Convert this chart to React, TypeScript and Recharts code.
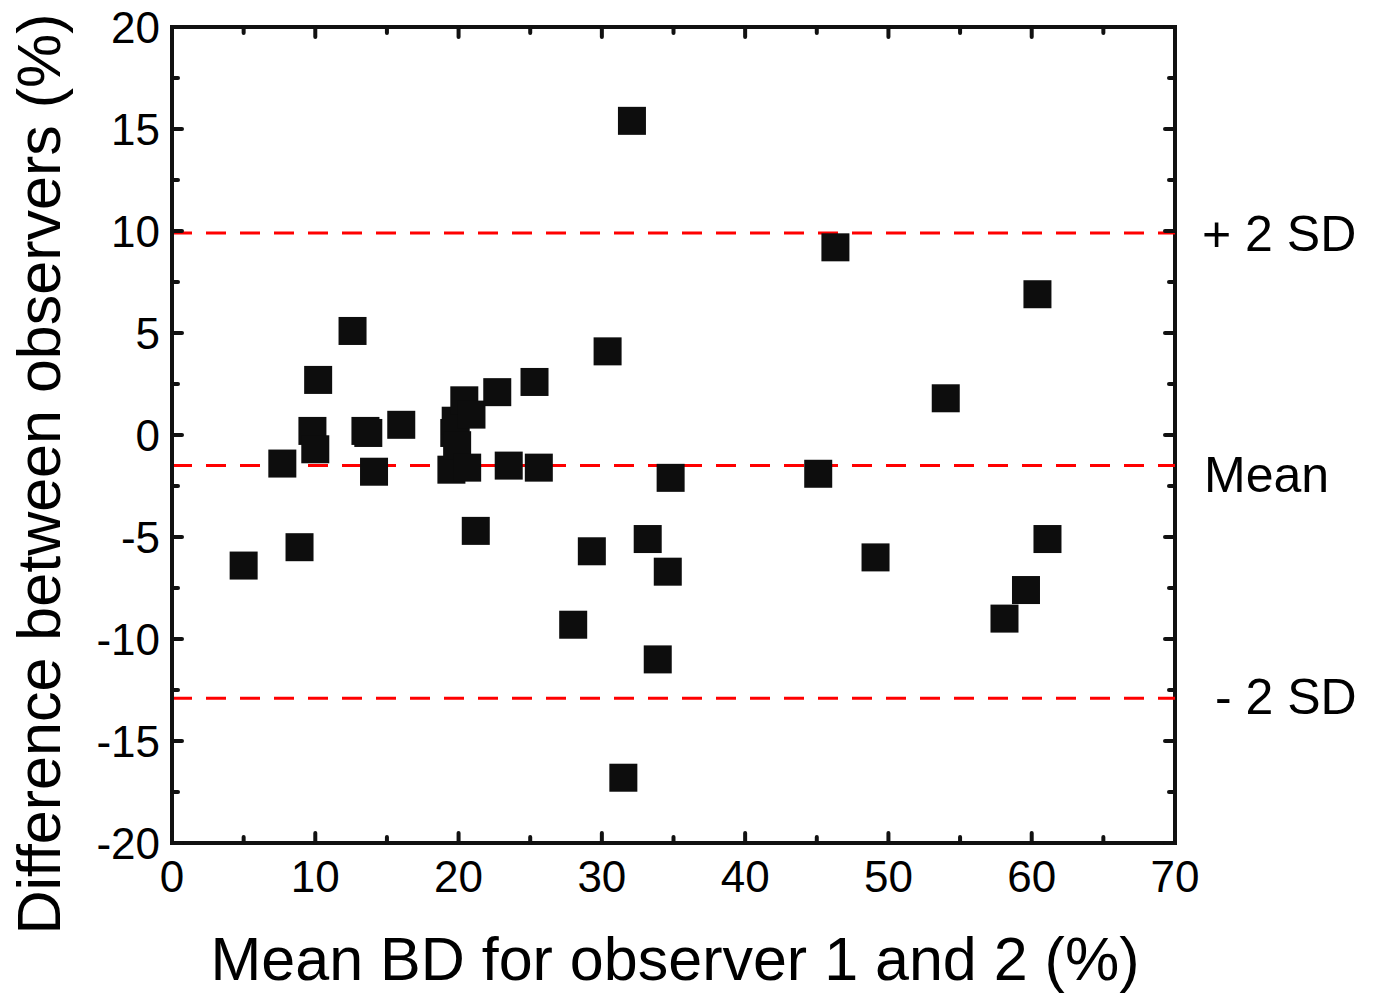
import React from 'react';
import { ScatterChart, Scatter, XAxis, YAxis, ReferenceLine } from 'recharts';

// Bland-Altman: mean BD vs difference between observers
const meanBD = [
  5.0, 7.7, 8.9, 9.8, 10.0, 10.2, 12.6, 13.5, 13.7, 14.1,
  16.0, 19.5, 19.7, 19.8, 19.9, 20.4, 20.6, 20.9, 21.2, 22.7,
  23.5, 25.3, 25.6, 28.0, 29.3, 30.4, 31.5, 32.1, 33.2, 33.9,
  34.6, 34.8, 45.1, 46.3, 49.1, 54.0, 58.1, 59.6, 60.4, 61.1,
];
const difference = [
  -6.4, -1.4, -5.5, 0.2, -0.7, 2.7, 5.1, 0.2, 0.1, -1.8,
  0.5, -1.7, 0.1, 0.7, -0.5, 1.7, -1.6, 1.0, -4.7, 2.1,
  -1.5, 2.6, -1.6, -9.3, -5.7, 4.1, -16.8, 15.4, -5.1, -11.0,
  -6.7, -2.1, -1.9, 9.2, -6.0, 1.8, -9.0, -7.6, 6.9, -5.1,
];

const xTicks = [0, 5, 10, 15, 20, 25, 30, 35, 40, 45, 50, 55, 60, 65, 70];
const xTickLabels = [0, 10, 20, 30, 40, 50, 60, 70];
const yTicks = [-20, -17.5, -15, -12.5, -10, -7.5, -5, -2.5, 0, 2.5, 5, 7.5, 10, 12.5, 15, 17.5, 20];
const yTickLabels = [-20, -15, -10, -5, 0, 5, 10, 15, 20];

const limitValues = [9.9, -1.5, -12.9];
const limitNames = ['+ 2 SD', 'Mean', '- 2 SD'];

const W = 1376;
const H = 996;
const margin = { top: 27, right: 201, bottom: 152, left: 171 };
const plotTop = margin.top;
const plotRight = W - margin.right;
const ink = '#111';
const font = '"Liberation Sans", Arial, sans-serif';

// label nudges for the limit lines (x offset from right axis, y offset)
const limitNudge = [
  { dx: 27, dy: 0 },
  { dx: 29, dy: 8 },
  { dx: 40, dy: -2 },
];

const points = meanBD.map((x, i) => ({ x, y: difference[i] }));

const XTick = (props: any) => {
  const { x, y, payload } = props;
  const major = xTickLabels.includes(payload.value);
  const len = major ? 10 : 6;
  return (
    <g>
      <line x1={x} y1={y} x2={x} y2={y - len} stroke={ink} strokeWidth={4} strokeLinecap="round" />
      <line x1={x} y1={plotTop} x2={x} y2={plotTop + len} stroke={ink} strokeWidth={4} strokeLinecap="round" />
      {major && (
        <text x={x} y={y + 49} textAnchor="middle" fontSize={44} fill="#000" fontFamily={font}>
          {payload.value}
        </text>
      )}
    </g>
  );
};

const YTick = (props: any) => {
  const { x, y, payload } = props;
  const major = yTickLabels.includes(payload.value);
  const len = major ? 10 : 6;
  return (
    <g>
      <line x1={x} y1={y} x2={x + len} y2={y} stroke={ink} strokeWidth={4} strokeLinecap="round" />
      <line x1={plotRight} y1={y} x2={plotRight - len} y2={y} stroke={ink} strokeWidth={4} strokeLinecap="round" />
      {major && (
        <text x={x - 12} y={y + 16} textAnchor="end" fontSize={44} fill="#000" fontFamily={font}>
          {payload.value}
        </text>
      )}
    </g>
  );
};

const SquareDot = (props: any) => {
  const { cx, cy } = props;
  const s = 28;
  return <rect x={cx - s / 2} y={cy - s / 2} width={s} height={s} fill="#0d0d0d" />;
};

const limitLabel = (i: number) => (props: any) => {
  const vb = props.viewBox || {};
  const x = (vb.x ?? 0) + (vb.width ?? 0) + limitNudge[i].dx;
  const y = (vb.y ?? 0) + limitNudge[i].dy + 18;
  return (
    <text x={x} y={y} fontSize={50} fill="#000" fontFamily={font}>
      {limitNames[i]}
    </text>
  );
};

const xTitle = () => (
  <text x={675} y={980} textAnchor="middle" fontSize={61} fill="#000" fontFamily={font}>
    Mean BD for observer 1 and 2 (%)
  </text>
);

const yTitle = () => (
  <text x={60} y={474} transform="rotate(-90, 60, 474)" textAnchor="middle" fontSize={61} fill="#000" fontFamily={font}>
    Difference between observers (%)
  </text>
);

export default function App() {
  return (
    <div style={{ position: 'absolute', left: 0, top: 0, width: W, height: H, background: '#fff' }}>
      <ScatterChart width={W} height={H} margin={margin}>
        <XAxis
          type="number"
          dataKey="x"
          domain={[0, 70]}
          ticks={xTicks}
          interval={0}
          height={1}
          tickSize={0}
          tickMargin={0}
          tickLine={false}
          tick={<XTick />}
          axisLine={{ stroke: ink, strokeWidth: 4, strokeLinecap: 'square' }}
          label={{ content: xTitle }}
        />
        <YAxis
          type="number"
          dataKey="y"
          domain={[-20, 20]}
          ticks={yTicks}
          interval={0}
          width={1}
          tickSize={0}
          tickMargin={0}
          tickLine={false}
          tick={<YTick />}
          axisLine={{ stroke: ink, strokeWidth: 4, strokeLinecap: 'square' }}
          label={{ content: yTitle }}
        />
        <ReferenceLine y={20} stroke={ink} strokeWidth={4} strokeLinecap="square" />
        <ReferenceLine x={70} stroke={ink} strokeWidth={4} strokeLinecap="square" />
        <Scatter data={points} shape={<SquareDot />} isAnimationActive={false} />
        {limitValues.map((v, i) => (
          <ReferenceLine
            key={limitNames[i]}
            y={v}
            stroke="#ff0000"
            strokeWidth={3}
            strokeDasharray="20 14"
            label={limitLabel(i)}
          />
        ))}
      </ScatterChart>
    </div>
  );
}
